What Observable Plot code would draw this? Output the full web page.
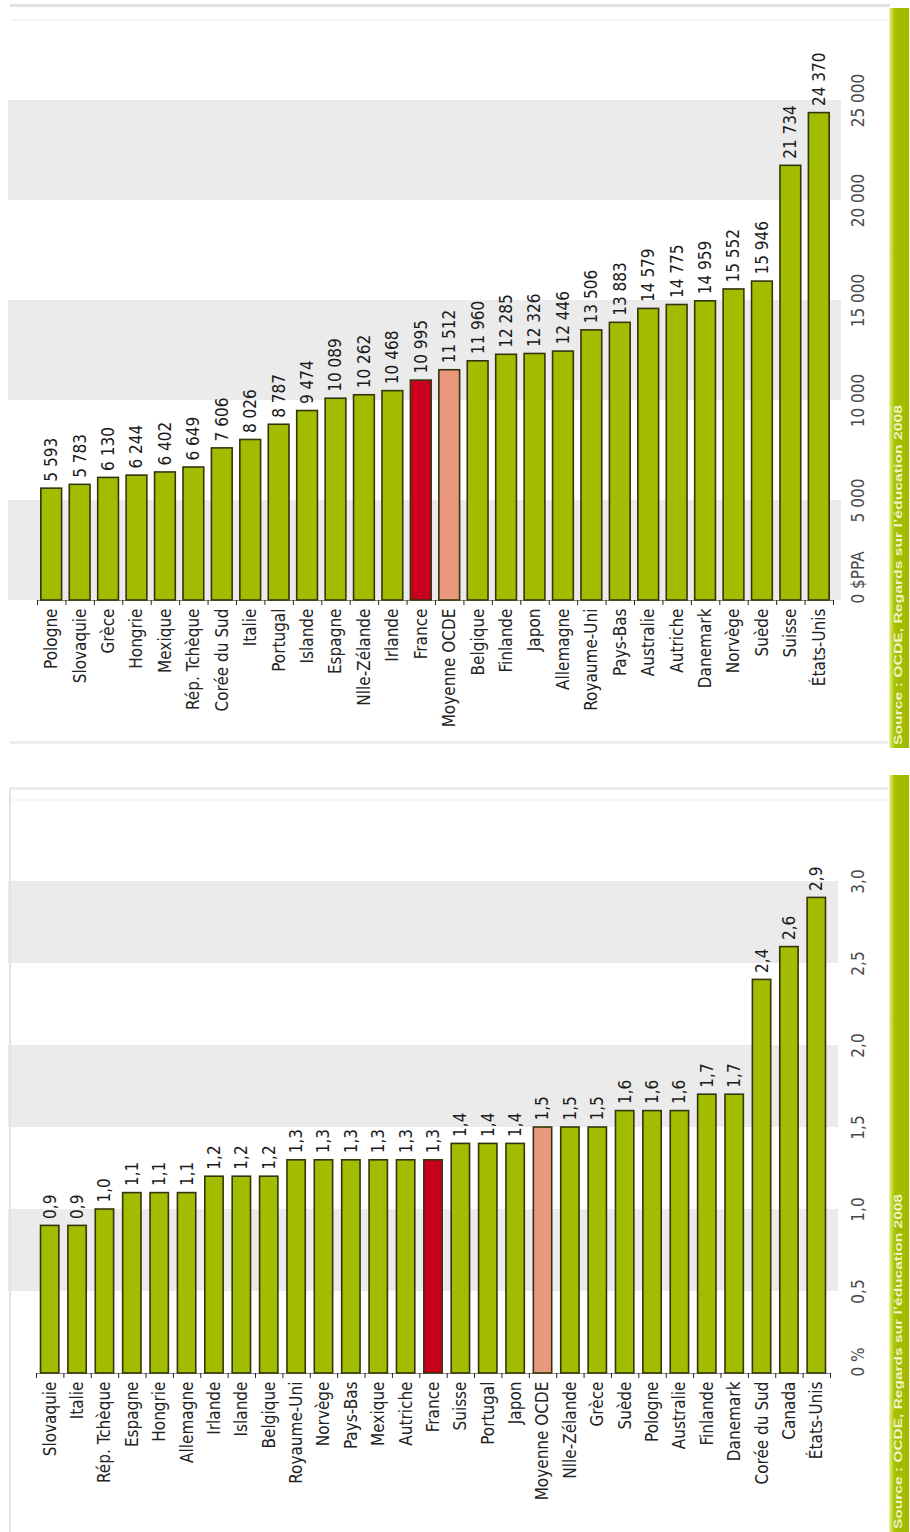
<!DOCTYPE html>
<html><head><meta charset="utf-8">
<script src="https://cdn.jsdelivr.net/npm/d3@7"></script>
<script src="https://cdn.jsdelivr.net/npm/@observablehq/plot@0.6"></script>
<style>
html,body{margin:0;padding:0;background:#fff;overflow:hidden}
#page{position:relative;width:910px;height:1532px;background:#fff}
.panel{position:absolute;left:0;width:910px}
.panel svg{position:absolute;left:0;top:0;max-width:none}
.deco{position:absolute;pointer-events:none}
.strip{position:absolute;left:889px;width:20px;background:linear-gradient(to right,#eef4b8 0,#c4d82a 3px,#a6bf00 6px,#9fb800 100%)}
.strip .src{position:absolute;left:4px;white-space:nowrap;transform-origin:0 0;font:bold 10px "Liberation Sans",Arial,sans-serif;color:#eef4c8;line-height:12px}
</style>
</head><body>
<div id="page">
  <div class="panel" id="p1" style="top:0;height:770px"></div>
  <div class="panel" id="p2" style="top:770px;height:762px"></div>
</div>
<script>
// ---- Chart 1 : dépense annuelle par étudiant ($PPA)
const spendCats = ["Pologne","Slovaquie","Grèce","Hongrie","Mexique","Rép. Tchèque","Corée du Sud","Italie","Portugal","Islande","Espagne","Nlle-Zélande","Irlande","France","Moyenne OCDE","Belgique","Finlande","Japon","Allemagne","Royaume-Uni","Pays-Bas","Australie","Autriche","Danemark","Norvège","Suède","Suisse","États-Unis"];
const spendValues = [5593,5783,6130,6244,6402,6649,7606,8026,8787,9474,10089,10262,10468,10995,11512,11960,12285,12326,12446,13506,13883,14579,14775,14959,15552,15946,21734,24370];
const spendTicks = [0,5000,10000,15000,20000,25000];
const spendTickLabels = ["0 $PPA","5 000","10 000","15 000","20 000","25 000"];
const spendBands = [[0,5000],[10000,15000],[20000,25000]];

// ---- Chart 2 : dépense en % du PIB
const gdpCats = ["Slovaquie","Italie","Rép. Tchèque","Espagne","Hongrie","Allemagne","Irlande","Islande","Belgique","Royaume-Uni","Norvège","Pays-Bas","Mexique","Autriche","France","Suisse","Portugal","Japon","Moyenne OCDE","Nlle-Zélande","Grèce","Suède","Pologne","Australie","Finlande","Danemark","Corée du Sud","Canada","États-Unis"];
const gdpValues = [0.9,0.9,1.0,1.1,1.1,1.1,1.2,1.2,1.2,1.3,1.3,1.3,1.3,1.3,1.3,1.4,1.4,1.4,1.5,1.5,1.5,1.6,1.6,1.6,1.7,1.7,2.4,2.6,2.9];
const gdpTicks = [0,0.5,1.0,1.5,2.0,2.5,3.0];
const gdpTickLabels = ["0 %","0,5","1,0","1,5","2,0","2,5","3,0"];
const gdpBands = [[0.5,1.0],[1.5,2.0],[2.5,3.0]];

const sourceText = "Source : OCDE, Regards sur l’éducation 2008";

const GREEN = "#a2bc00", RED = "#c8001e", SALMON = "#e8987c", EDGE = "#35350c";
const colorFor = c => c === "France" ? RED : c === "Moyenne OCDE" ? SALMON : GREEN;

const fr = d3.formatLocale({decimal: ",", thousands: " ", grouping: [3], currency: ["", ""]});
const FONT = "'Liberation Sans Narrow', 'DejaVu Sans Condensed', 'Liberation Sans', Arial, sans-serif";

function makePanel({cats, values, ticks, tickLabels, bands, fmt, domain, height, mt, mb, ml, mr, pad, labelDx}) {
  const data = cats.map((c, i) => ({cat: c, value: values[i]}));
  const axis = ticks.map((t, i) => ({v: t, label: tickLabels[i]}));
  const n = cats.length;
  const step = (910 - ml - mr) / n;
  return Plot.plot({
    width: 910, height,
    marginTop: mt, marginBottom: mb, marginLeft: ml, marginRight: mr,
    style: {background: "transparent", fontFamily: FONT, overflow: "visible"},
    x: {domain: cats, paddingInner: pad, paddingOuter: pad / 2, round: false, axis: null},
    y: {domain, axis: null},
    marks: [
      Plot.rect(bands, {y1: d => d[0], y2: d => d[1], fill: "#ebebeb", insetLeft: -(ml - 8), insetRight: -8}),
      Plot.ruleY([0], {stroke: "#8a8a8a", strokeWidth: 1}),
      Plot.barY(data, {x: "cat", y: "value", fill: d => colorFor(d.cat), stroke: EDGE, strokeWidth: 1.6}),
      Plot.text(data, {x: "cat", y: "value", text: d => fmt(d.value), rotate: -90, textAnchor: "start", dy: -7, fontSize: 17, fill: "#1a1a1a"}),
      Plot.axisX({tickSize: 0, tickPadding: 8, tickRotate: -90, fontSize: 17, fill: "#222", tickFormat: d => d, label: null}),
      Plot.axisX({tickSize: 5, tickFormat: () => "", dx: -step / 2, stroke: "#222", label: null}),
      Plot.axisX([cats[n - 1]], {tickSize: 5, tickFormat: () => "", dx: step / 2, stroke: "#222", label: null}),
      Plot.text(axis.slice(1), {y: "v", text: "label", frameAnchor: "right", dx: labelDx, rotate: -90, textAnchor: "middle", fontSize: 17, fill: "#4a4a4a"}),
      Plot.text(axis.slice(0, 1), {y: "v", text: "label", frameAnchor: "right", dx: labelDx, rotate: -90, textAnchor: "start", dy: 3, fontSize: 17, fill: "#4a4a4a"})
    ]
  });
}

const p1 = document.getElementById("p1");
p1.append(makePanel({
  cats: spendCats, values: spendValues, ticks: spendTicks, tickLabels: spendTickLabels, bands: spendBands,
  fmt: fr.format(",d"), domain: [0, 29000], height: 770, mt: 20, mb: 170, ml: 37, mr: 77, pad: 0.27, labelDx: 25
}));

const p2 = document.getElementById("p2");
p2.append(makePanel({
  cats: gdpCats, values: gdpValues, ticks: gdpTicks, tickLabels: gdpTickLabels, bands: gdpBands,
  fmt: fr.format(".1f"), domain: [0, 3.5], height: 762, mt: 29, mb: 159, ml: 36, mr: 80, pad: 0.33, labelDx: 28
}));

// decorations: panel borders and source strips
function deco(parent, css) { const d = document.createElement("div"); d.className = "deco"; d.style.cssText = css; parent.append(d); return d; }
deco(p1, "left:10px;top:4px;width:880px;height:3px;background:#e0e0e0");
deco(p1, "left:10px;top:19px;width:878px;height:2px;background:#f5f5f5");
deco(p1, "left:10px;top:741px;width:878px;height:3px;background:#ececec");
deco(p2, "left:10px;top:17px;width:878px;height:3px;background:#ececec");
deco(p2, "left:10px;top:29px;width:878px;height:2px;background:#f5f5f5");
deco(p2, "left:9px;top:18px;width:2px;height:744px;background:#e4e4e4");

function strip(parent, top, h, len) {
  const s = document.createElement("div");
  s.className = "strip"; s.style.top = top + "px"; s.style.height = h + "px";
  const t = document.createElement("div");
  t.className = "src"; t.textContent = sourceText;
  s.append(t); parent.append(s);
  const w = t.getBoundingClientRect().width;
  t.style.top = (h - 3) + "px";
  t.style.transform = `rotate(-90deg) scaleX(${len / w})`;
}
strip(p1, 8, 740, 340);
strip(p2, 5, 757, 335);
</script>
</body></html>
